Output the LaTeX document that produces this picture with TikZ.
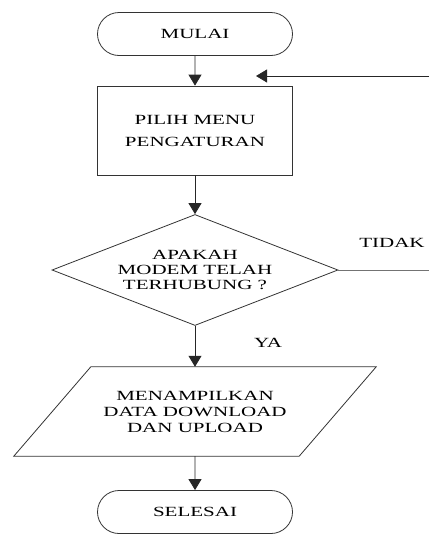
\documentclass[tikz,border=0pt]{standalone}
\usepackage{fontspec}
\setmainfont{Liberation Serif}[FakeStretch=1.5]
\usetikzlibrary{shapes.geometric,shapes.misc,arrows.meta}

\begin{document}
\begin{tikzpicture}[x=1pt, y=-1pt,
		every node/.style={font=\fontsize{14}{16}\selectfont, text=black},
		terminal/.style={rounded rectangle, draw=black!80, line width=0.8pt, minimum width=195pt, minimum height=43pt, inner sep=0pt},
		proses/.style={rectangle, draw=black!80, line width=0.8pt, minimum width=195pt, minimum height=89pt, align=center},
		keputusan/.style={diamond, draw=black!80, line width=0.8pt, aspect=2.58, inner sep=0pt, minimum width=286pt, minimum height=111pt, align=center},
		data/.style={rectangle, minimum width=208pt, minimum height=89pt, inner sep=0pt, align=center},
		panah/.style={-{Triangle[length=11pt,width=13pt]}, draw=black!85, line width=0.8pt},
		garis/.style={draw=black!80, line width=0.8pt}]
		
		\useasboundingbox (0,0) rectangle (429,536);
		
		% Simbol
		\node[terminal] (mulai) at (195,34) {MULAI};
		\node[proses, font=\fontsize{14}{22}\selectfont] (menu) at (195,130.5) {PILIH MENU\\PENGATURAN};
		\node[keputusan, font=\fontsize{14}{15}\selectfont] (cek) at (195,270) {APAKAH\\MODEM TELAH\\TERHUBUNG ?};
		\node[data] (tampil) at (195,411.5) {MENAMPILKAN\\DATA DOWNLOAD\\DAN UPLOAD};
		\node[terminal] (selesai) at (195,512) {SELESAI};
		\node (tidak) at (392,243) {TIDAK};
		\node (ya) at (268,343) {YA};
		\coordinate (kanan) at (429,270);
		\coordinate (atas) at (429,76);
		\coordinate (balik) at (256,76);
		
		% Jajar genjang
		\draw[garis] (tampil.north west) -- ([xshift=77pt]tampil.north east) -- (tampil.south east) -- ([xshift=-77pt]tampil.south west) -- cycle;
		
		% Connect
		\draw[panah] (mulai) -- (menu);
		\draw[panah] (menu) -- (cek);
		\draw[panah] (cek) -- (tampil);
		\draw[panah] (tampil.south) -- (selesai);
		\draw[garis, draw=black!55] (cek.east) -- (kanan);
		\draw[panah] (atas) -- (balik);
		
	\end{tikzpicture}
\end{document}
